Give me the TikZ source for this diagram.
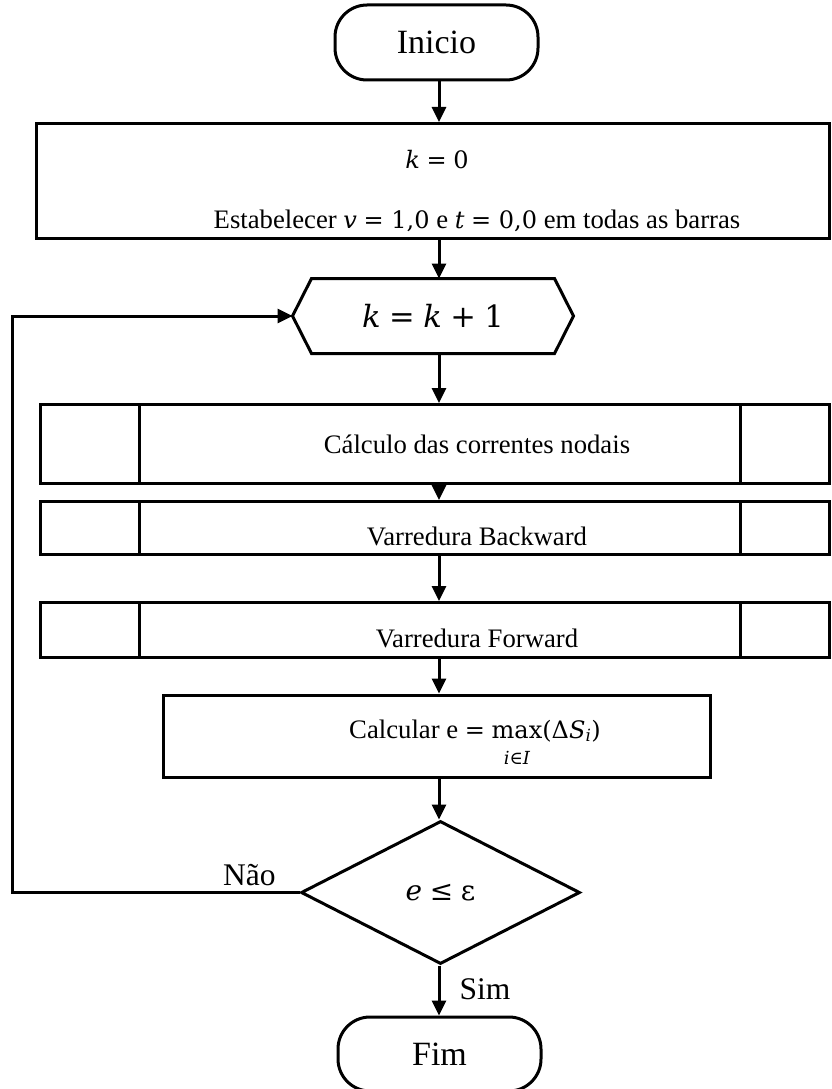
\documentclass[tikz,border=0pt]{standalone}
\usepackage{fontspec}
\setmainfont{Liberation Serif}
\newfontfamily\mth[Scale=0.9]{DejaVu Serif}
\newcommand\mi[1]{{\mth\itshape #1}}
\newcommand\mo[1]{{\mth #1}}
\usetikzlibrary{arrows.meta,calc,shapes.geometric}
\begin{document}
\begin{tikzpicture}[x=1pt,y=-1pt,line width=3pt,
  flow/.style={-{Triangle[length=15pt,width=14pt]}},
  big/.style={font=\fontsize{34}{40}\selectfont,inner sep=0pt},
  lbl/.style={font=\fontsize{31.5}{36}\selectfont,inner sep=0pt},
  txt/.style={font=\fontsize{26.7}{32}\selectfont,inner sep=0pt},
  term/.style={draw,rounded corners=32pt,minimum width=203pt,minimum height=75pt,inner sep=0pt,font=\fontsize{34}{40}\selectfont},
  box/.style={draw,rectangle,inner sep=0pt},
  proc/.style={draw,rectangle,inner sep=0pt,minimum width=789pt}]
\useasboundingbox (0,0) rectangle (831,1089);

% start / end terminals
\node[term] (start) at (436.5,42.5) {Inicio};
\node[term,minimum height=74pt] (stop) at (439.5,1054) {Fim};

% initialisation block
\node[box,minimum width=793pt,minimum height=115pt] (init) at (432.5,181) {};
\node[txt] (k0) at (437,160) {\mi{k} \mo{=} \mo{0}};
\node[txt] (estab) at (477,221) {Estabelecer \mi{v} \mo{= 1,0} e \mi{t} \mo{= 0,0} em todas as barras};

% iteration counter (hexagon)
\node[big,minimum width=278pt,minimum height=72pt] (inc) at (433,316) {\mi{k} \mo{=} \mi{k} \mo{+} \mo{1}};
\draw (inc.west) -- ($(inc.north west)+(19,0)$) -- ($(inc.north east)+(-19,0)$)
  -- (inc.east) -- ($(inc.south east)+(-19,0)$) -- ($(inc.south west)+(19,0)$) -- cycle;

% predefined processes
\node[proc,minimum height=79pt] (p1) at (434.5,444) {};
\node[proc,minimum height=53pt] (p2) at (434.5,528) {};
\node[proc,minimum height=55pt] (p3) at (434.5,630) {};
\foreach \n in {p1,p2,p3}
  \draw ($(\n.north west)+(101,0)$) -- ($(\n.south west)+(101,0)$)
        ($(\n.north east)+(-90,0)$) -- ($(\n.south east)+(-90,0)$);
\node[txt] (t1) at (477,444) {Cálculo das correntes nodais};
\node[txt] (t2) at (477,536) {Varredura Backward};
\node[txt] (t3) at (477,638) {Varredura Forward};

% mismatch computation
\node[box,minimum width=547pt,minimum height=82pt] (calc) at (436.5,736) {};
\node[txt,anchor=base] (ct) at (475,738) {Calcular e \mo{=}
  \begin{tabular}[t]{@{}c@{}}\mo{max}\\[-6pt]{\fontsize{20}{22}\selectfont\mi{i}\mo{∈}\mi{I}}\end{tabular}\mo{(Δ}\mi{S}\textsubscript{\mi{i}}\mo{)}};

% convergence test
\node[draw,diamond,aspect=1.95,minimum width=279pt,minimum height=143pt,inner sep=0pt,
  font=\fontsize{31}{36}\selectfont] (dec) at (440.5,892.5) {\mi{e} \mo{≤} \mo{ε}};

% connectors
\coordinate (col) at (439,0);
\draw[flow] (start.south -| col) -- (col |- init.north);
\draw[flow] (init.south -| col) -- (col |- inc.north);
\draw[flow] (inc.south -| col) -- (col |- p1.north);
\draw[flow] (p1.south -| col) -- (col |- p2.north);
\draw[flow] (p2.south -| col) -- (col |- p3.north);
\draw[flow] (p3.south -| col) -- (col |- calc.north);
\draw[flow] (calc.south -| col) -- (col |- dec.north);
\draw[flow] (dec.south -| col) -- (col |- stop.north);
\coordinate (lc) at (12,0);
\draw[flow] (dec.west) -- (dec.west -| lc) |- (inc.west);

% branch labels
\node[lbl,anchor=base east] (nao) at (277,885) {Não};
\node[lbl,anchor=base west] (sim) at (458,999) {Sim};
\end{tikzpicture}
\end{document}
